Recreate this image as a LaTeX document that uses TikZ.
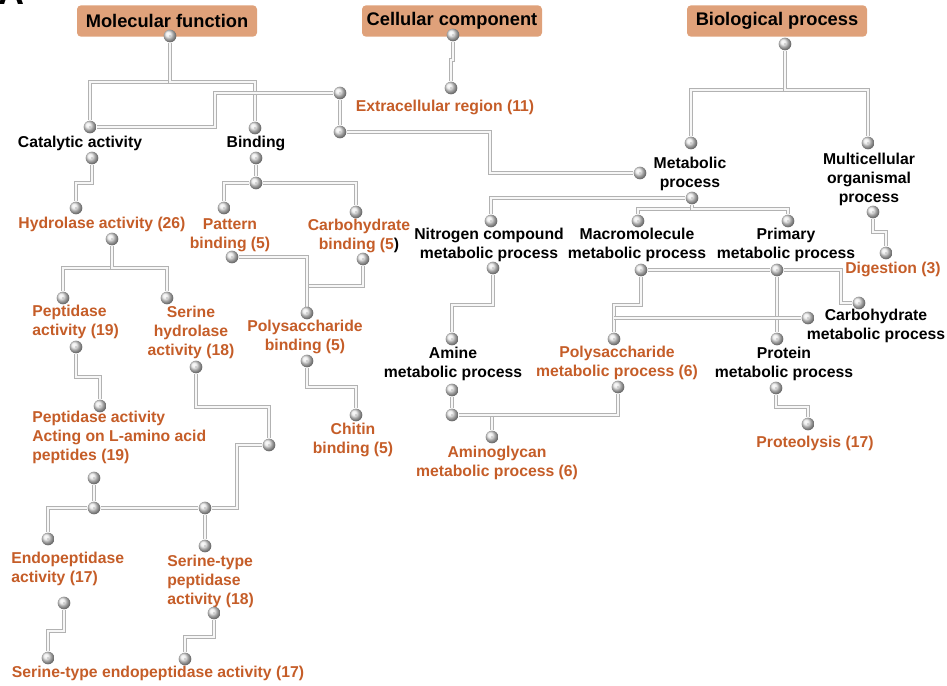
\documentclass[tikz,border=0pt]{standalone}
\usepackage{fontspec}
\setmainfont{Liberation Sans}
\usepackage{tikz}
\usetikzlibrary{shadings,backgrounds}
\definecolor{termorange}{RGB}{197,93,40}
\definecolor{rootfill}{RGB}{223,161,122}
\tikzstyle{ball}=[circle,inner sep=0pt,minimum size=9.5pt,shading=ball,ball color=gray!18,path picture={\fill[gray!55] (path picture bounding box.center) circle (0.6pt);}]
\tikzstyle{pipe}=[draw=gray!60,line width=0.6pt,double=gray!6,double distance=1.8pt]
\tikzstyle{term}=[font=\bfseries\fontsize{11.8}{14.3}\selectfont,align=center,inner sep=0pt]
\tikzstyle{hit}=[term,text=termorange]
\tikzstyle{root}=[rectangle,rounded corners=3pt,fill=rootfill,minimum width=135pt,minimum height=23.5pt,inner sep=0pt,font=\bfseries\fontsize{13.7}{16}\selectfont]

\begin{document}
\begin{tikzpicture}[x=0.75pt,y=-0.75pt]

 \useasboundingbox (0,0) rectangle (947,686);

 \node[font=\bfseries\fontsize{27}{27}\selectfont,anchor=base] (panel) at (11,4) {A};

 % ontology roots
 \node[root] (mf) at (167,21) {Molecular function};
 \node[root] (cc) at (452,21) {Cellular component};
 \node[root] (bp) at (777,21) {Biological process};

 % terms without hits
 \foreach \x/\y/\name/\label in {80/143/catL/{Catalytic activity}, 256/143/bindL/{Binding},
     690/174/metL/{Metabolic\\process}, 869/179/mcL/{Multicellular\\organismal\\process},
     489/245/nitL/{Nitrogen compound\\metabolic process}, 637/245/macL/{Macromolecule\\metabolic process},
     786/245/priL/{Primary\\metabolic process}, 453/364/amL/{Amine\\metabolic process},
     784/364/prL/{Protein\\metabolic process}, 876/326/chL/{Carbohydrate\\metabolic process}}
        \node[term] (\name) at (\x,\y) {\label};

 % enriched terms
 \foreach \x/\y/\name/\label in {445/107/ecL/{Extracellular region (11)}, 102/224/hydL/{Hydrolase activity (26)},
     230/235/patL/{Pattern\\binding (5)}, 359/236/carL/{Carbohydrate\\binding (5\textcolor{black}{)}},
     305/337/pbL/{Polysaccharide\\binding (5)}, 353/440/chiL/{Chitin\\binding (5)},
     191/332/shL/{Serine\\hydrolase\\activity (18)}, 158/673/steL/{Serine-type endopeptidase activity (17)},
     893/269/digL/{Digestion (3)}, 617/363/psL/{Polysaccharide\\metabolic process (6)},
     497/463/agL/{Aminoglycan\\metabolic process (6)}, 815/443/ptL/{Proteolysis (17)}}
        \node[hit] (\name) at (\x,\y) {\label};

 \foreach \x/\y/\name/\label in {32/322/pepL/{Peptidase\\activity (19)},
     32/437/palL/{Peptidase activity\\Acting on L-amino acid\\peptides (19)},
     11/569/endL/{Endopeptidase\\activity (17)}, 167/581/stpL/{Serine-type\\peptidase\\activity (18)}}
        \node[hit,anchor=west,align=left] (\name) at (\x,\y) {\label};

 % joints
 \foreach \x/\y/\name in {170/36/mfB, 90/127/catT, 255/128/bindT, 453/35/ccB, 451/88/ecA,
     340/93/ecB, 340/132/ecC, 92/158/catB, 76/208/hydT, 256/158/bindB, 256/183/bindJ,
     224/208/patT, 356/212/carT, 232/257/patB, 363/259/carB, 307/313/pbT, 307/361/pbB,
     356/415/chiT, 112/239/hydB, 63/298/pepT, 167/298/shT, 76/347/pepB, 100/406/palT,
     196/367/shB, 269/445/shC, 94/478/palB, 94/508/palJ, 48/539/endT, 205/508/stpJ,
     205/546/stpT, 64/603/endB, 48/658/steA, 214/613/stpB, 185/659/steB}
        \node[ball] (\name) at (\x,\y) {};

 \foreach \x/\y/\name in {785/44/bpB, 691/143/metT, 868/143/mcT, 640/173/metA, 692/198/metB,
     491/221/nitT, 638/221/macT, 788/221/priT, 873/212/mcB, 886/253/digT, 493/268/nitB,
     452/339/amT, 452/390/amB, 452/415/amJ, 492/437/agT, 641/270/macB, 777/270/priB,
     614/339/psT, 618/387/psB, 859/303/chA, 808/318/chB, 777/339/prT, 776/388/prB, 808/424/ptT}
        \node[ball] (\name) at (\x,\y) {};

 \begin{scope}[on background layer]
  % down, across, down
  \foreach \source/\dest/\d in {mfB/catT/46, mfB/bindT/46, ccB/ecA/25, ecB/ecC/20, catB/hydT/25,
      bindB/bindJ/10, carB/pbT/27, pbB/chiT/26, hydB/pepT/29, hydB/shT/29, pepB/palT/30,
      shB/shC/40, palB/palJ/10, stpJ/stpT/10, endB/steA/28, stpB/steB/24, bpB/metT/46,
      bpB/mcT/46, metB/macT/11, metB/priT/11, mcB/digT/20, nitB/amT/37, amB/amJ/10,
      macB/psT/35, priB/prT/10, prB/ptT/19}
        \path[pipe] (\source) -- ++(0,\d) -| (\dest);

  % across, down
  \foreach \source/\dest in {bindJ/patT, bindJ/carT, palJ/endT, metB/nitT, amJ/agT, amJ/psB}
        \path[pipe] (\source) -| (\dest);

  % across, up or down, across
  \foreach \source/\dest/\d in {catT/ecB/125, ecC/metA/150, shC/stpJ/-32, priB/chA/64, patB/pbT/75}
        \path[pipe] (\source) -- ++(\d,0) |- (\dest);

  \path[pipe] (macB) -- (priB);
  \path[pipe] (palJ) -- (stpJ);
  \path[pipe] (chB) -- (chB -| psT);
 \end{scope}

\end{tikzpicture}
\end{document}
